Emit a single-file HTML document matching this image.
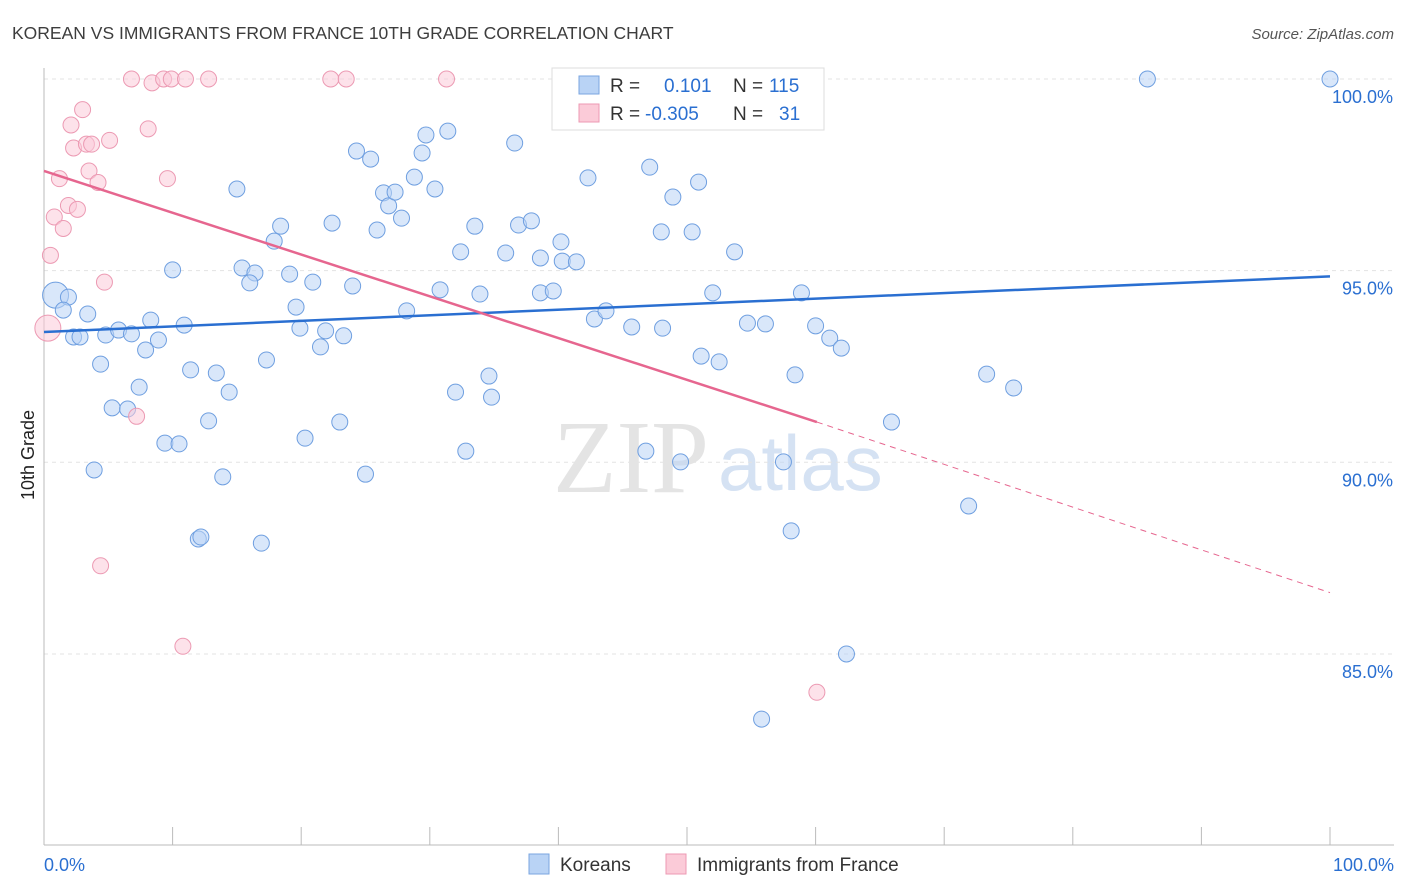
<!DOCTYPE html>
<html><head><meta charset="utf-8"><style>
body{margin:0;background:#fff;font-family:"Liberation Sans",sans-serif}
svg{display:block}
</style></head><body>
<svg width="1406" height="892" id="chart">
<text x="12" y="39" font-size="17.5" fill="#3d3d3d">KOREAN VS IMMIGRANTS FROM FRANCE 10TH GRADE CORRELATION CHART</text>
<text x="1394" y="39" font-size="15" fill="#555" font-style="italic" text-anchor="end">Source: ZipAtlas.com</text>
<text x="553" y="492" font-size="104" fill="#e4e4e4" font-family="Liberation Serif,serif">ZIP</text>
<text x="718" y="490" font-size="78" fill="#d5e2f3">atlas</text>
<g id="grid"></g><g id="axes"></g><g id="pts"></g><g id="trend"></g>
<text x="34" y="455" font-size="18" fill="#222" transform="rotate(-90 34 455)" text-anchor="middle">10th Grade</text>
<g>
<rect x="552" y="68" width="272" height="62" fill="#fff" stroke="#ddd"/>
<rect x="579" y="76" width="20" height="18" fill="#b9d3f5" stroke="#7aa6e0"/>
<rect x="579" y="104" width="20" height="18" fill="#fbcbd8" stroke="#ec9ab3"/>
<text x="610" y="92" font-size="19" fill="#333">R = </text><text x="664" y="92" font-size="19" fill="#2a6fd1">0.101</text>
<text x="733" y="92" font-size="19" fill="#333">N = </text><text x="769" y="92" font-size="19" fill="#2a6fd1">115</text>
<text x="610" y="120" font-size="19" fill="#333">R = </text><text x="645" y="120" font-size="19" fill="#2a6fd1">-0.305</text>
<text x="733" y="120" font-size="19" fill="#333">N = </text><text x="779" y="120" font-size="19" fill="#2a6fd1">31</text>
</g>
<g>
<rect x="529" y="854" width="20" height="20" fill="#b9d3f5" stroke="#7aa6e0"/>
<text x="560" y="871" font-size="19" fill="#333">Koreans</text>
<rect x="666" y="854" width="20" height="20" fill="#fbcbd8" stroke="#ec9ab3"/>
<text x="697" y="871" font-size="19" fill="#333">Immigrants from France</text>
</g>
</svg>
<script>
const yTicks=[100,95,90,85];
const yTickLabels=["100.0%","95.0%","90.0%","85.0%"];
const xTickLabels=["0.0%","100.0%"];
const koreanX=[0.9,1.9,1.5,3.4,2.3,2.8,4.4,3.9,4.8,5.8,6.8,5.3,6.5,7.4,7.9,8.3,8.9,10.0,10.9,9.4,10.5,11.4,12.0,12.2,12.8,13.4,13.9,14.4,15.0,15.4,16.4,16.0,16.9,17.3,17.9,18.4,19.1,19.6,19.9,20.3,20.9,21.5,21.9,23.0,23.3,22.4,24.0,24.3,25.0,25.4,25.9,26.4,26.8,27.3,27.8,28.2,28.8,29.4,29.7,30.4,30.8,31.4,32.0,32.4,32.8,33.5,33.9,34.6,34.8,35.9,36.6,36.9,37.9,38.6,38.6,39.6,40.2,40.3,41.4,40.9,42.3,42.8,43.7,45.7,46.8,47.1,48.0,48.1,48.9,49.5,50.4,50.9,51.1,52.0,52.5,53.7,54.7,56.1,57.5,58.1,58.4,58.9,60.0,61.1,62.0,62.4,55.8,65.9,71.9,73.3,75.4,85.8,100,56.6];
const koreanY=[94.36,94.31,93.97,93.87,93.27,93.27,92.56,89.80,93.32,93.45,93.35,91.42,91.39,91.96,92.93,93.71,93.19,95.02,93.58,90.50,90.48,92.41,88.0,88.05,91.08,92.33,89.62,91.83,97.13,95.07,94.94,94.68,87.89,92.67,95.77,96.16,94.91,94.05,93.50,90.63,94.70,93.01,93.43,91.05,93.30,96.24,94.60,98.12,89.69,97.91,96.06,97.03,96.69,97.05,96.37,93.95,97.44,98.07,98.54,97.13,94.50,98.64,91.83,95.49,90.29,96.16,94.39,92.25,91.70,95.46,98.33,96.19,96.30,94.42,95.33,94.47,95.75,95.25,95.23,100,97.42,93.74,93.95,93.53,90.29,97.70,96.01,93.50,96.92,90.01,96.01,97.31,92.77,94.42,92.62,95.49,93.63,93.61,90.01,88.21,92.28,94.42,93.56,93.24,92.98,85.0,83.30,91.05,88.86,92.30,91.94,100,100,99.06];
const franceX=[0.3,0.5,0.8,1.2,1.5,1.9,2.1,2.3,2.6,3.0,3.3,3.5,3.7,4.2,4.7,4.4,5.1,7.2,6.8,8.1,8.4,9.3,9.6,9.9,10.8,11.0,12.8,22.3,23.5,31.3,60.1];
const franceY=[93.5,95.4,96.4,97.4,96.1,96.7,98.8,98.2,96.6,99.2,98.3,97.6,98.3,97.3,94.7,87.3,98.4,91.2,100.0,98.7,99.9,100.0,97.4,100.0,85.2,100.0,100.0,100.0,100.0,100.0,84.0];
const koreanTrend=[93.4,94.85];
const franceTrend=[97.6,91.05,86.6];
const franceTrendX=[0,60.1,100];
const X=v=>44+v*12.86, Y=v=>79+(100-v)*38.33;
const ns="http://www.w3.org/2000/svg";
function mk(t,a,p){const e=document.createElementNS(ns,t);for(const k in a)e.setAttribute(k,a[k]);p.appendChild(e);return e;}
const grid=document.getElementById('grid'),axes=document.getElementById('axes'),pts=document.getElementById('pts'),tr=document.getElementById('trend');
yTicks.forEach((t,i)=>{
 const l=mk('line',{x1:44,x2:1394,y1:Y(t),y2:Y(t),stroke:'#e3e3e3','stroke-dasharray':'4,4'},grid);
 
 
 const tx=mk('text',{x:1393,y:Y(t)+24,'font-size':18,fill:'#2a6fd1','text-anchor':'end'},axes);tx.textContent=yTickLabels[i];
 
 
});
mk('line',{x1:44,x2:44,y1:68,y2:845,stroke:'#bbb'},axes);
mk('line',{x1:44,x2:1394,y1:845,y2:845,stroke:'#bbb'},axes);
for(let i=0;i<=10;i++){const l=mk('line',{x1:X(i*10),x2:X(i*10),y1:827,y2:845,stroke:'#bbb'},axes);}
[[0,'start',44],[100,'end',1394]].forEach((d,i)=>{const t=mk('text',{x:d[2],y:871,'font-size':18,fill:'#2a6fd1','text-anchor':d[1]},axes);t.textContent=xTickLabels[i];
 
 });
koreanX.forEach((x,i)=>{const c=mk('circle',{cx:X(x),cy:Y(koreanY[i]),r:i==0?13:8,fill:'#b9d3f5','fill-opacity':0.55,stroke:'#6f9fe0','stroke-width':1},pts);
 
 });
franceX.forEach((x,i)=>{const c=mk('circle',{cx:X(x),cy:Y(franceY[i]),r:i==0?13:8,fill:'#fbcbd8','fill-opacity':0.55,stroke:'#ec9ab3','stroke-width':1},pts);
 
 });
let l=mk('line',{x1:X(0),y1:Y(koreanTrend[0]),x2:X(100),y2:Y(koreanTrend[1]),stroke:'#2a6fd1','stroke-width':2.5},tr);


l=mk('line',{x1:X(franceTrendX[0]),y1:Y(franceTrend[0]),x2:X(franceTrendX[1]),y2:Y(franceTrend[1]),stroke:'#e6668f','stroke-width':2.5},tr);


l=mk('line',{x1:X(franceTrendX[1]),y1:Y(franceTrend[1]),x2:X(franceTrendX[2]),y2:Y(franceTrend[2]),stroke:'#e6668f','stroke-width':1,'stroke-dasharray':'6,5'},tr);


</script>
</body></html>
